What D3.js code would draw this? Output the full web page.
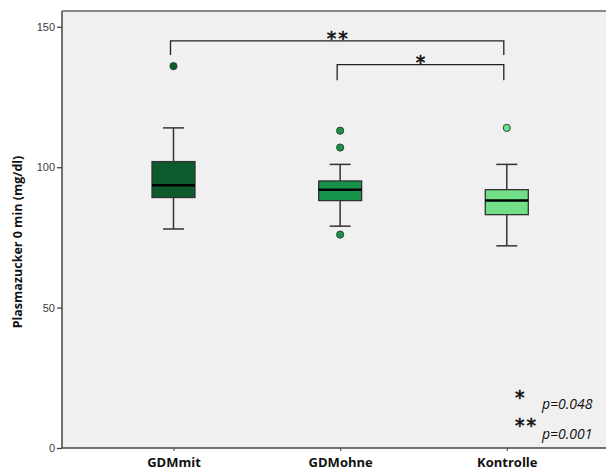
<!DOCTYPE html>
<html><head><meta charset="utf-8">
<script src="https://cdn.jsdelivr.net/npm/d3@7"></script>
<style>body{margin:0;background:#fff}svg{display:block}</style>
</head><body><svg id="c" width="606" height="472"></svg>
<script>
const categories = ["GDMmit", "GDMohne", "Kontrolle"];
const whiskerLow  = [78, 79, 72];
const q1          = [89.2, 88.1, 83.1];
const median      = [93.6, 92.0, 88.1];
const q3          = [102, 95.1, 92.0];
const whiskerHigh = [114, 101, 101];
const outliers    = [[136], [113, 107, 76], [114]];
const boxColors   = ["#0d5a2c", "#17924a", "#73de88"];
const yTicks      = [0, 50, 100, 150];
const brackets    = [{from: 0, to: 2, y: 145, leg: 140, label: "**"}, {from: 1, to: 2, y: 136.5, leg: 131, label: "*"}];
const pNotes      = [{stars: "*", text: "p=0.048"}, {stars: "**", text: "p=0.001"}];

const svg = d3.select("#c");
const plotLeft = 62, plotTop = 11, plotBottom = 448;
const y = d3.scaleLinear().domain([0, 150]).range([plotBottom, 26.8]);
const x = d3.scalePoint().domain(categories).range([173.5, 506.8]);

// plot background
svg.append("rect").attr("x", plotLeft).attr("y", plotTop).attr("width", 606 - plotLeft).attr("height", plotBottom - plotTop).attr("fill", "#f0f0f0");
svg.append("line").attr("x1", plotLeft).attr("x2", 606).attr("y1", plotTop).attr("y2", plotTop).attr("stroke", "#8a8a8a").attr("stroke-width", 2);

// y axis
const yAxis = svg.append("g").attr("transform", `translate(${plotLeft},0)`)
  .call(d3.axisLeft(y).tickValues(yTicks).tickSize(5).tickPadding(2));
yAxis.select(".domain").attr("stroke", "#444").attr("stroke-width", 1.5).attr("d", `M0,${plotTop}V${plotBottom}`);
yAxis.selectAll(".tick line").attr("stroke", "#444").attr("stroke-width", 1.3);
yAxis.selectAll(".tick text").attr("font-family", "Liberation Sans, Arial, sans-serif").attr("font-size", 11).attr("fill", "#3a3a3a");

// x axis
const xAxis = svg.append("g").attr("transform", `translate(0,${plotBottom})`)
  .call(d3.axisBottom(x).tickSize(3).tickPadding(7));
xAxis.select(".domain").attr("stroke", "#444").attr("stroke-width", 1.5).attr("d", `M${plotLeft},0H606`);
xAxis.selectAll(".tick line").attr("stroke", "#444");
xAxis.selectAll(".tick text").attr("font-family", "Open Sans, sans-serif").attr("font-weight", "bold").attr("font-size", 13).attr("fill", "#111");

// y label
svg.append("text").attr("transform", `translate(22,242) rotate(-90)`).attr("text-anchor", "middle")
  .attr("font-family", "Open Sans, sans-serif").attr("font-weight", "bold").attr("font-size", 12.5).attr("fill", "#111")
  .text("Plasmazucker 0 min (mg/dl)");

const boxW = 43, capW = 21;
categories.forEach((c, i) => {
  const cx = x(c);
  const g = svg.append("g");
  g.append("line").attr("x1", cx).attr("x2", cx).attr("y1", y(whiskerHigh[i])).attr("y2", y(whiskerLow[i])).attr("stroke", "#333").attr("stroke-width", 1.5);
  [whiskerHigh[i], whiskerLow[i]].forEach(v => g.append("line").attr("x1", cx - capW / 2).attr("x2", cx + capW / 2).attr("y1", y(v)).attr("y2", y(v)).attr("stroke", "#333").attr("stroke-width", 1.5));
  g.append("rect").attr("x", cx - boxW / 2).attr("y", y(q3[i])).attr("width", boxW).attr("height", y(q1[i]) - y(q3[i]))
    .attr("fill", boxColors[i]).attr("stroke", "#333").attr("stroke-width", 1.3);
  g.append("line").attr("x1", cx - boxW / 2).attr("x2", cx + boxW / 2).attr("y1", y(median[i])).attr("y2", y(median[i])).attr("stroke", "#000").attr("stroke-width", 2.5);
  outliers[i].forEach(v => g.append("circle").attr("cx", cx).attr("cy", y(v)).attr("r", 3.6).attr("fill", boxColors[i]).attr("stroke", "#2a4a35").attr("stroke-width", 1));
});

function stars(sel) {
  return sel.attr("font-family", "DejaVu Sans, sans-serif").attr("font-size", 19).attr("letter-spacing", 2)
    .attr("fill", "#111").attr("stroke", "#111").attr("stroke-width", 0.6);
}

// significance brackets
brackets.forEach(b => {
  const x1 = x(categories[b.from]) - 3, x2 = x(categories[b.to]) - 3;
  svg.append("path").attr("d", `M${x1},${y(b.leg)}V${y(b.y)}H${x2}V${y(b.leg)}`).attr("fill", "none").attr("stroke", "#222").attr("stroke-width", 1.3);
  stars(svg.append("text").attr("x", (x1 + x2) / 2 + 1).attr("y", y(b.y) + 4).attr("text-anchor", "middle")).text(b.label);
});

// p-value notes
pNotes.forEach((p, i) => {
  const by = 409 + i * 30;
  stars(svg.append("text").attr("x", 515).attr("y", by - 5 - i * 2)).text(p.stars);
  svg.append("text").attr("x", 542).attr("y", by).attr("font-family", "Open Sans, sans-serif").attr("font-style", "italic")
    .attr("font-size", 14).attr("fill", "#111").text(p.text);
});
</script></body></html>
